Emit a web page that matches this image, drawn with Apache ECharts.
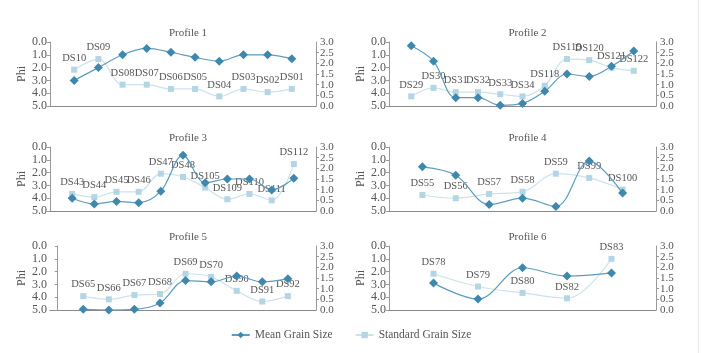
<!DOCTYPE html>
<html><head><meta charset="utf-8">
<script src="https://cdn.jsdelivr.net/npm/echarts@6/dist/echarts.min.js"></script>
<style>html,body{margin:0;padding:0;background:#fff}#c{width:702px;height:353px}</style>
</head><body><div id="c"></div>
<script>
// Profile data
const titles = ['Profile 1','Profile 2','Profile 3','Profile 4','Profile 5','Profile 6'];
const cats1 = ['DS10','DS09','DS08','DS07','DS06','DS05','DS04','DS03','DS02','DS01'];
const mean1 = [3.0, 2.0, 1.0, 0.5, 0.8, 1.2, 1.5, 1.0, 1.0, 1.3];
const std1  = [1.7, 2.2, 1.0, 1.0, 0.8, 0.8, 0.45, 0.8, 0.65, 0.8];
const cats2 = ['DS29','DS30','DS31','DS32','DS33','DS34','DS118','DS119','DS120','DS121','DS122'];
const mean2 = [0.3, 1.5, 4.35, 4.35, 4.95, 4.8, 3.85, 2.5, 2.7, 1.9, 0.7];
const std2  = [0.45, 0.85, 0.65, 0.65, 0.55, 0.45, 0.95, 2.2, 2.15, 1.8, 1.65];
const cats3 = ['DS43','DS44','DS45','DS46','DS47','DS48','DS105','DS109','DS110','DS111','DS112'];
const mean3 = [4.0, 4.45, 4.25, 4.35, 3.45, 0.65, 2.8, 2.5, 2.5, 3.35, 2.45];
const std3  = [0.8, 0.65, 0.9, 0.9, 1.75, 1.6, 1.1, 0.55, 0.8, 0.5, 2.2];
const cats4 = ['DS55','DS56','DS57','DS58','DS59','DS99','DS100'];
const mean4 = [1.55, 2.2, 4.5, 4.0, 4.65, 1.1, 3.6];
const std4  = [0.75, 0.6, 0.8, 0.9, 1.75, 1.55, 1.0];
const cats5 = ['DS65','DS66','DS67','DS68','DS69','DS70','DS90','DS91','DS92'];
const mean5 = [4.95, 5.0, 4.95, 4.45, 2.7, 2.8, 2.35, 2.8, 2.55];
const std5  = [0.65, 0.5, 0.7, 0.75, 1.7, 1.55, 0.9, 0.4, 0.65];
const cats6 = ['DS78','DS79','DS80','DS82','DS83'];
const mean6 = [2.9, 4.15, 1.7, 2.35, 2.1];
const std6  = [1.7, 1.1, 0.8, 0.55, 2.4];
const leftTicks = ['0.0','1.0','2.0','3.0','4.0','5.0'];
const rightTicks = ['0.0','0.5','1.0','1.5','2.0','2.5','3.0'];

const cats = [cats1,cats2,cats3,cats4,cats5,cats6];
const means = [mean1,mean2,mean3,mean4,mean5,mean6];
const stds = [std1,std2,std3,std4,std5,std6];

const FONT = 'Liberation Serif';
const TXT = '#555';
const AX = '#9a9a9a';
const MEAN_C = '#3f88ad';
const MEAN_L = '#5c9dbf';
const STD_C = '#b4d5e3';
const STD_L = '#cde2ec';

const lefts = [50, 389];
const widths = [266, 267];
const tops = [42, 147, 246];
const H = 64;
const xRange = [[0,11],[0,12],[0,12],[0,8],[-0.3,10.1],[0,6]];

const grid=[], xAxis=[], yAxis=[], series=[], title=[];
for (let i=0;i<6;i++){
  const col=i%2,row=Math.floor(i/2);
  grid.push({left:lefts[col],top:tops[row],width:widths[col],height:H});
  title.push({text:titles[i],left:lefts[col]+widths[col]/2,top:tops[row]-19,textAlign:'center',
    textStyle:{fontFamily:FONT,fontSize:11,fontWeight:'normal',color:TXT}});
  xAxis.push({type:'value',gridIndex:i,min:xRange[i][0],max:xRange[i][1],
    axisLine:{show:true,onZero:false,lineStyle:{color:'#8a8a8a',width:1.2}},axisTick:{show:false},
    axisLabel:{show:false},splitLine:{show:false}});
  const li=yAxis.length;
  yAxis.push({type:'value',gridIndex:i,min:0,max:5,interval:1,inverse:true,position:'left',
    name:'Phi',nameLocation:'middle',nameGap:20,nameRotate:90,
    nameTextStyle:{fontFamily:FONT,fontSize:12,color:TXT},
    axisLine:{show:true,lineStyle:{color:AX}},axisTick:{show:true,length:3,lineStyle:{color:AX}},
    axisLabel:{fontFamily:FONT,fontSize:12,color:TXT,margin:3,showMinLabel:true,showMaxLabel:true,
      formatter:(v)=>leftTicks[Math.round(v)]},
    splitLine:{show:false}});
  const ri=yAxis.length;
  // right axis: half-step labels
  yAxis.push({type:'value',gridIndex:i,min:0,max:3,interval:0.5,position:'right',
    axisLine:{show:true,lineStyle:{color:AX}},axisTick:{show:true,length:3,lineStyle:{color:AX}},
    axisLabel:{fontFamily:FONT,fontSize:11,color:TXT,margin:4,showMinLabel:false,showMaxLabel:false,
      formatter:(v)=>{const k=Math.round(v*2);return k%2===1?rightTicks[k]:'';}},
    splitLine:{show:false}});
  // right axis: whole-step labels
  yAxis.push({type:'value',gridIndex:i,min:0,max:3,interval:1,position:'right',
    axisLine:{show:false},axisTick:{show:false},
    axisLabel:{fontFamily:FONT,fontSize:11,color:TXT,margin:4,showMinLabel:true,showMaxLabel:true,
      formatter:(v)=>rightTicks[Math.round(v*2)]},
    splitLine:{show:false}});
  const c=cats[i];
  series.push({name:'Standard Grain Size',type:'line',smooth:0.35,xAxisIndex:i,yAxisIndex:ri,
    symbol:'rect',symbolSize:6,itemStyle:{color:STD_C},lineStyle:{color:STD_L,width:1.2},
    label:{show:true,position:'top',distance:3,fontFamily:FONT,fontSize:10.5,color:TXT,
      formatter:(p)=>c[p.dataIndex]},
    data:stds[i].map((v,j)=>[j+1,v]),z:2});
  series.push({name:'Mean Grain Size',type:'line',smooth:0.35,xAxisIndex:i,yAxisIndex:li,
    symbol:'diamond',symbolSize:9,itemStyle:{color:MEAN_C},lineStyle:{color:MEAN_L,width:1.2},
    data:means[i].map((v,j)=>[j+1,v]),z:3});
}
const chart=echarts.init(document.getElementById('c'),null,{renderer:'canvas'});
chart.setOption({
  animation:false,
  title, grid, xAxis, yAxis, series,
  legend:{bottom:7,left:'center',itemGap:22,itemWidth:18,itemHeight:8,
    textStyle:{fontFamily:FONT,fontSize:11.5,color:TXT},
    data:['Mean Grain Size','Standard Grain Size']},
  graphic:[{type:'line',shape:{x1:698.5,y1:0,x2:698.5,y2:353},style:{stroke:'#e6e6e6',lineWidth:1}}]
});
</script></body></html>
